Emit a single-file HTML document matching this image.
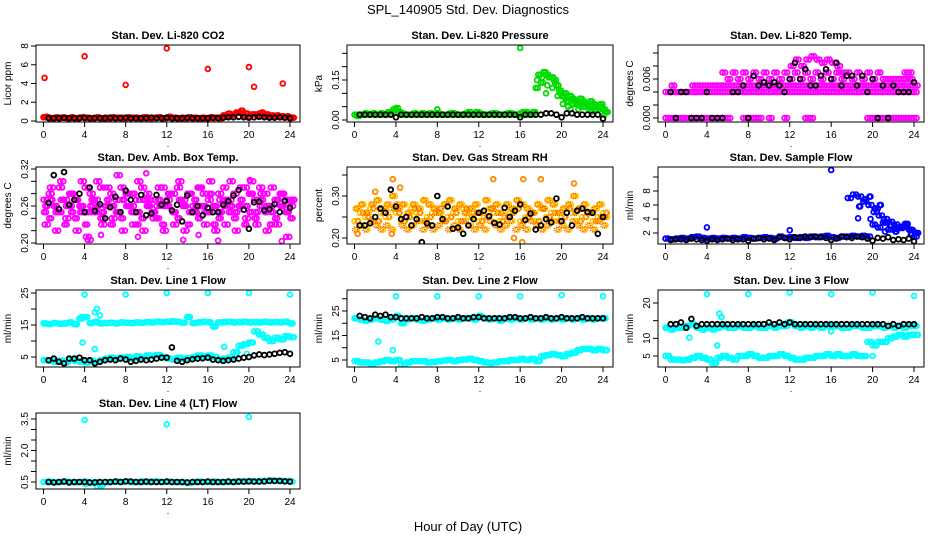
<!DOCTYPE html>
<html><head><meta charset="utf-8">
<style>
html,body{margin:0;padding:0;background:#fff;}
svg{display:block;font-family:"Liberation Sans",Arial,sans-serif;}
</style></head>
<body>
<svg id="chart" width="936" height="540" viewBox="0 0 936 540" xmlns="http://www.w3.org/2000/svg">
<text x="468" y="14" text-anchor="middle" font-size="13">SPL_140905  Std. Dev. Diagnostics</text>
<text x="468" y="531" text-anchor="middle" font-size="13">Hour of Day (UTC)</text>
</svg>
<script>
const xTicks=[0,4,8,12,16,20,24];
// CO2
const co2Red=[0.4,0.35,0.3,0.3,0.35,0.3,0.3,0.35,0.3,0.3,0.35,0.3,0.35,0.3,0.3,0.35,0.3,0.3,0.35,0.3,0.4,0.3,0.35,0.3,0.35,0.3,0.3,0.35,0.3,0.3,0.3,0.35,0.3,0.3,0.35,0.6,0.8,0.7,0.9,0.6,0.5,0.7,0.8,0.6,0.5,0.5,0.4,0.4,0.3];
const co2Red2=[0.45,0.3,0.4,0.35,0.3,0.4,0.3,0.4,0.35,0.3,0.4,0.3,0.3,0.4,0.35,0.3,0.4,0.35,0.3,0.4,0.3,0.35,0.4,0.3,0.45,0.35,0.3,0.3,0.4,0.35,0.3,0.3,0.4,0.35,0.3,0.5,0.6,0.9,1.1,0.8,0.7,0.6,0.9,0.7,0.6,0.6,0.5,0.5,0.35];
const co2OutX=[0.1,4,8,12,16,20,20.5,23.3];
const co2OutY=[4.6,6.9,3.85,7.75,5.55,5.75,3.65,4.0];
const co2Black=[null,0.3,0.3,0.3,0.35,0.3,0.3,0.3,0.35,0.3,0.3,0.3,0.3,0.35,0.3,0.3,0.35,0.3,0.3,0.3,0.3,0.35,0.3,0.3,0.35,0.3,0.3,0.3,0.35,0.3,0.3,0.3,0.3,0.35,0.3,0.35,0.4,0.4,0.45,0.4,0.35,0.4,0.45,0.4,0.35,0.35,0.4,0.35,0.3];
// Pressure
const presA=[0.02,0.02,0.025,0.02,0.02,0.025,0.02,0.03,0.045,0.025,0.02,0.02,0.02,0.025,0.02,0.02,0.025,0.02,0.02,0.025,0.02,0.02,0.03,0.02,0.025,0.02,0.02,0.025,0.02,0.02,0.025,0.02,0.025,0.03,0.02,0.12,0.14,0.17,0.16,0.13,0.09,0.07,0.08,0.06,0.07,0.05,0.06,0.05,0.04];
const presB=[0.015,0.02,0.02,0.025,0.02,0.02,0.03,0.04,0.03,0.02,0.02,0.025,0.02,0.02,0.025,0.02,0.02,0.02,0.025,0.02,0.02,0.025,0.02,0.03,0.02,0.02,0.025,0.02,0.02,0.025,0.02,0.02,0.03,0.02,0.03,0.17,0.18,0.16,0.15,0.11,0.1,0.09,0.07,0.08,0.06,0.07,0.05,0.06,0.03];
const presC=[null,null,null,null,null,null,null,null,null,null,null,null,null,null,null,null,null,null,null,null,null,null,null,null,null,null,null,null,null,null,null,null,null,null,null,0.15,0.16,0.13,0.12,0.09,0.06,0.05,0.06,0.04,0.05,0.04,0.05,0.04,0.02];
const presD=[null,null,null,null,null,null,null,null,null,null,null,null,null,null,null,null,null,null,null,null,null,null,null,null,null,null,null,null,null,null,null,null,null,null,null,null,null,null,0.14,0.1,0.08,0.04,0.06,0.05,0.06,0.03,0.04,0.05,0.03];
const presOutX=[16,18.5,4,8];
const presOutY=[0.27,0.1,0.045,0.04];
const presBlack=[null,0.02,0.02,0.02,0.02,0.02,0.02,0.02,0.01,0.02,0.02,0.02,0.02,0.02,0.02,0.02,0.02,0.02,0.02,0.02,0.02,0.02,0.02,0.02,0.02,0.02,0.02,0.02,0.02,0.02,0.02,0.02,0.01,0.02,0.02,0.02,0.02,0.025,0.025,0.02,0.01,0.025,0.025,0.02,0.02,0.02,0.02,0.02,0.005];
// Li-820 temp
const tempM0=[0,0,0,0,0,0,0,0,0,0,0,0,0,null,null,0,0,0,0,null,0,null,null,0,null,null,null,0,0,null,null,null,null,null,null,null,null,null,null,0,0,0,0,0,0,0,0,0,0];
const tempM4=[0.004,0.004,0.004,0.004,0.004,0.004,0.004,0.004,0.004,0.004,0.004,0.004,0.004,0.004,0.004,0.004,0.004,0.004,0.004,0.004,0.004,0.004,0.004,0.004,0.004,0.004,0.004,0.004,0.004,0.004,0.004,0.004,0.004,0.004,0.004,0.004,0.004,0.004,0.004,0.004,0.004,0.004,0.004,0.004,0.004,0.004,0.004,0.004,0.004];
const tempM5=[null,0.005,null,null,null,0.005,0.005,0.005,0.005,0.005,0.005,0.005,0.005,0.005,0.005,0.005,0.005,0.005,0.005,0.005,0.005,0.005,0.005,0.005,0.005,0.005,0.005,0.005,0.005,0.005,0.005,0.005,0.005,0.005,0.005,0.005,0.005,0.005,0.005,0.005,0.005,0.005,0.005,0.005,0.005,0.005,0.005,0.005,0.005];
const tempM6=[null,null,null,null,null,null,null,null,null,null,null,0.007,0.006,0.007,0.006,0.007,0.006,0.007,0.006,0.007,0.006,0.007,0.006,0.007,0.006,0.007,0.006,0.007,0.006,0.007,0.006,0.007,0.006,0.007,0.006,0.007,0.006,0.007,0.006,0.007,0.006,0.007,0.006,0.006,0.006,0.006,0.006,0.007,null];
const tempM7=[null,null,null,null,null,null,null,null,null,null,null,null,null,null,null,null,null,null,null,null,null,null,null,null,0.008,0.009,0.008,0.009,0.0095,0.009,0.0085,0.009,0.0085,0.008,0.007,null,null,null,null,null,null,null,null,null,null,null,0.007,0.006,null];
const tempBlack=[null,0.004,0,0.004,0.004,0,0,0,0.004,0,0,0,null,0.004,0.004,0.005,0,0.0065,0.005,0.0055,0.005,0.0055,0.005,0.004,0.006,0.0085,0.006,0.0075,0.005,0.005,0.0065,0.0075,0.006,0.0085,0.005,0.0065,0.0065,0.005,0.0065,0.004,0.006,0,0.005,0,0.005,0.004,0.004,0.004,0.0055];
// Amb box
const ambA=[0.27,0.28,0.26,0.29,0.27,0.28,0.27,0.26,0.29,0.28,0.27,0.29,0.26,0.28,0.27,0.29,0.28,0.26,0.27,0.29,0.28,0.27,0.26,0.29,0.27,0.28,0.29,0.27,0.28,0.26,0.29,0.28,0.27,0.26,0.28,0.29,0.27,0.28,0.26,0.29,0.28,0.27,0.29,0.28,0.26,0.27,0.28,0.27,0.26];
const ambB=[0.25,0.24,0.26,0.25,0.23,0.26,0.24,0.25,0.23,0.26,0.25,0.24,0.26,0.23,0.25,0.24,0.26,0.25,0.23,0.24,0.26,0.25,0.24,0.23,0.26,0.25,0.24,0.26,0.23,0.25,0.24,0.26,0.25,0.23,0.24,0.26,0.25,0.24,0.26,0.23,0.25,0.24,0.26,0.25,0.23,0.24,0.26,0.25,0.24];
const ambC=[0.23,0.29,0.22,0.3,0.24,0.28,0.22,0.3,0.21,0.25,0.3,0.23,0.29,0.24,0.31,0.22,0.28,0.23,0.3,0.22,0.27,0.24,0.29,0.22,0.28,0.23,0.3,0.22,0.28,0.25,0.29,0.23,0.3,0.22,0.27,0.23,0.3,0.22,0.29,0.24,0.3,0.23,0.28,0.22,0.29,0.23,0.28,0.21,0.27];
const ambD=[0.26,0.27,0.25,0.27,0.26,0.25,0.27,0.26,0.25,0.27,0.26,0.25,0.27,0.26,0.25,0.27,0.26,0.28,0.25,0.27,0.26,0.25,0.27,0.26,0.28,0.25,0.27,0.26,0.25,0.27,0.26,0.25,0.28,0.26,0.25,0.27,0.26,0.25,0.27,0.26,0.28,0.25,0.27,0.26,0.25,0.27,0.26,0.25,0.27];
const ambOutX=[4.3,4.6,5.6,10,9.2,13.6,15.1,17,20.1,23.2];
const ambOutY=[0.205,0.205,0.213,0.313,0.21,0.205,0.213,0.204,0.302,0.203];
const ambBlack=[null,0.265,0.31,0.255,0.315,0.262,0.27,0.28,0.25,0.29,0.252,0.263,0.24,0.258,0.275,0.25,0.285,0.27,0.25,0.278,0.245,0.248,0.278,0.262,0.268,0.253,0.262,0.235,0.277,0.25,0.26,0.245,0.257,0.25,0.25,0.262,0.268,0.277,0.286,0.254,0.223,0.266,0.267,0.253,0.255,0.263,0.25,0.268,0.257];
// RH
const rhA=[0.24,0.26,0.25,0.27,0.24,0.26,0.25,0.27,0.26,0.24,0.25,0.27,0.26,0.24,0.25,0.26,0.27,0.24,0.25,0.26,0.24,0.27,0.25,0.26,0.24,0.25,0.27,0.26,0.24,0.25,0.26,0.27,0.24,0.25,0.26,0.24,0.27,0.25,0.26,0.24,0.25,0.27,0.26,0.24,0.25,0.26,0.24,0.25,0.26];
const rhB=[0.22,0.23,0.22,0.24,0.23,0.22,0.23,0.22,0.28,0.23,0.22,0.23,0.24,0.22,0.23,0.22,0.23,0.24,0.22,0.23,0.22,0.24,0.23,0.22,0.23,0.22,0.24,0.23,0.22,0.23,0.24,0.22,0.23,0.22,0.24,0.23,0.22,0.23,0.24,0.22,0.23,0.22,0.24,0.23,0.22,0.23,0.22,0.24,0.23];
const rhC=[0.27,0.28,0.26,0.28,0.29,0.27,0.28,0.3,0.27,0.28,0.26,0.28,0.27,0.29,0.28,0.27,0.26,0.28,0.29,0.27,0.28,0.26,0.27,0.28,0.26,0.29,0.27,0.28,0.26,0.28,0.27,0.29,0.28,0.27,0.26,0.28,0.27,0.29,0.28,0.26,0.27,0.28,0.3,0.27,0.28,0.26,0.27,0.28,0.25];
const rhOutX=[0.3,2,3.7,3.6,4.4,13.4,16.3,18,21,21.2,16.2,15.4];
const rhOutY=[0.21,0.31,0.34,0.21,0.32,0.34,0.34,0.34,0.38,0.33,0.19,0.2];
const rhBlack=[null,0.23,0.23,0.235,0.25,0.27,0.26,0.315,0.275,0.245,0.25,0.23,0.245,0.19,0.235,0.23,0.3,0.245,0.275,0.222,0.225,0.21,0.23,0.245,0.26,0.265,0.252,0.236,0.232,0.272,0.25,0.265,0.28,0.243,0.258,0.22,0.23,0.245,0.237,0.294,0.24,0.26,0.23,0.265,0.27,0.262,0.26,0.21,0.25];
// Sample flow
const sfA=[1.2,1.1,1.2,1.3,1.2,1.4,1.5,1.3,1.2,1.3,1.2,1.3,1.2,1.3,1.2,1.4,1.3,1.2,1.3,1.4,1.3,1.2,1.5,1.3,1.4,1.3,1.4,1.3,1.5,1.4,1.5,1.6,1.4,1.3,1.5,1.5,1.6,1.5,1.6,1.5,3.2,2.8,3.5,2.5,2.6,2.8,3.0,2.5,1.5];
const sfB=[null,null,null,null,null,null,null,null,null,null,null,null,null,null,null,null,null,null,null,null,null,null,null,null,null,null,null,null,null,null,null,null,null,null,null,7.0,7.5,7.2,6.5,6.0,5.0,4.5,4.0,3.6,3.2,2.7,3.3,2.4,2.0];
const sfC=[null,null,null,null,null,null,null,null,null,null,null,null,null,null,null,null,null,null,null,null,null,null,null,null,null,null,null,null,null,null,null,null,null,null,null,null,null,5.8,6.8,7.2,5.5,6.0,3.5,3.0,2.2,2.8,3.3,1.8,2.0];
const sfOutX=[16,4,12,18.6,20.5,19.8,21.2];
const sfOutY=[11,2.8,2.4,4.1,5.5,4,2.2];
const sfBlack=[null,1.0,1.1,1.1,1.0,1.2,1.1,1.0,0.9,1.1,1.0,1.1,1.2,1.0,1.1,1.1,0.9,1.2,1.3,1.1,1.2,1.0,1.4,1.3,1.1,1.4,1.3,1.5,1.4,1.5,1.4,1.3,1.0,1.2,1.5,1.4,1.3,1.5,1.4,1.2,0.9,1.3,1.2,1.4,1.0,1.1,1.0,1.2,0.8];
// Line 1
const l1Up=[15.5,15.3,15.6,15.4,15.5,15.8,15.2,17,17.5,15.6,16,15.5,15.6,15.7,15.5,15.8,15.7,15.6,15.8,15.7,15.9,15.8,16,15.9,16,16.1,16,15.7,17.5,15.6,15.8,16,15.9,14.5,15.8,15.9,16,15.8,15.9,16,15.8,15.9,15.8,16,15.8,15.9,15.8,16,15.5];
const l1Low=[4,3.8,3.5,3.9,3.3,4.2,3.8,3.5,3.3,3.8,3.5,4,4.5,4.8,4.4,4.8,5,4.5,5.2,4.8,5.5,5.3,5.6,5,4.5,4.2,4.8,4.5,4.6,5,5.5,5.2,5.5,5.0,4.3,4.5,4.8,6.5,8.5,9,9.5,13,12,11,10,11,10.5,11.5,11.2];
const l1OutX=[4,8,12,16,20,24,3.8,5,5.2,5.5,3.7,5,17.6,19.8];
const l1OutY=[24.5,24.5,25,25,25,24.5,9.5,7.5,20,18,17.5,19,8.2,6];
const l1Black=[null,4,4.5,3.5,3,4.5,4.5,4.8,4,4,3,3.5,4,4.2,4,4.5,4.2,3.5,3.8,4.2,4,4.2,4.5,4.8,4.8,8,3.8,3.5,4,4.3,4.5,4.6,4.8,4.2,4,3.8,4,4.2,4.5,4.8,5,5.5,5.8,5.6,5.8,6,6.3,6.5,6.0];
// Line 2
const l2Up=[22,21.5,21,21.5,22,21.5,21,21.5,23,20,21.5,22,21.5,21,21.5,22,21.5,22,21.5,22,21.5,22,22,21.5,23,22,21.5,22,21,22,21.5,22,21.5,22,21.5,22,21.5,22,21.5,22,21.5,22,21.5,22,21.5,22,21.5,22,22];
const l2Low=[4.5,4,4,3.5,4,4.5,5,4.5,5,3,4,4.5,4.5,4.5,4,4.2,4.5,4.8,5,4.5,5,5.2,5.5,5,4.5,4,3.8,4,4.5,4.5,5,5,5.5,5,5.5,4.5,6.5,7,7.5,7,6.5,7.5,8,9,9.5,9.5,9,9.5,9];
const l2OutX=[4,8,12,16,20,24,2.3,3.7];
const l2OutY=[31,31,31,31,31.5,31,12.5,9];
const l2Black=[null,23,22.5,22,23.5,23,23.5,22.5,22.5,22,22,22,22,22.5,22,22,22.5,22.5,22,22,22.5,22,22,22.5,22.5,22,22,22,22,22,22.5,22.5,22,22,22.5,22,22,22.5,22,22,22.5,22,22,22,22.5,22,22,22,22];
// Line 3
const l3Up=[13,12.5,13,13,13.5,14,13,12.5,13,12.5,13,13.5,13,13,13.5,13,13,13.5,13,13,13.5,13,13.5,13.5,14.5,13.5,13,13.5,13,13.5,13,13.5,13.5,13.5,13,13,13.5,13.5,13,13,13.5,13.5,13,13.5,13,13.5,13,13.5,13.5];
const l3Low=[5,4,4,3.8,4,4.5,5,4.5,4,3,4.5,5,4.5,4,5,5,5.5,5,4.5,4.5,5,5,5.5,5,4.5,4,4,4.5,4.5,5,5,5.5,5,5.5,5,5,5.5,5,5,9,8,9,9,10,10.5,11,10.5,11,11];
const l3OutX=[4,8,12,16,20,24,2.3,5,5.2,5.4,16,20,11.8];
const l3OutY=[22.5,22.5,23,22.5,23,22,10.2,8,17,16,12,5,14.5];
const l3Black=[null,14,14,14.5,13,15.5,13.5,14,14,14,14,14,14,14,14,14,14,14,14,14,14.5,14,14.5,14,14.5,14,14,14,14,14,14,14,14,14,14,14,14,14,14,14,14,14,14,13.5,14,13.5,14,14,14];
// Line 4
const l4Cyan=[0.5,0.52,0.48,0.5,0.53,0.5,0.48,0.5,0.52,0.45,0.5,0.35,0.48,0.5,0.52,0.5,0.53,0.5,0.5,0.52,0.5,0.53,0.52,0.5,0.52,0.5,0.5,0.48,0.45,0.5,0.52,0.5,0.5,0.52,0.5,0.5,0.5,0.52,0.53,0.52,0.55,0.53,0.55,0.56,0.58,0.56,0.55,0.55,0.52];
const l4OutX=[4,12,20,4.1,5.2];
const l4OutY=[3.45,3.25,3.6,0.4,0.3];
const l4Black=[null,0.5,0.48,0.5,0.52,0.48,0.5,0.5,0.5,0.48,0.48,0.5,0.5,0.5,0.52,0.5,0.53,0.52,0.5,0.5,0.52,0.5,0.5,0.5,0.52,0.5,0.5,0.5,0.48,0.5,0.5,0.5,0.52,0.5,0.5,0.5,0.52,0.5,0.52,0.52,0.53,0.52,0.52,0.53,0.55,0.55,0.55,0.53,0.52];

const SVGNS="http://www.w3.org/2000/svg";
const svg=document.getElementById('chart');
function mk(tag,attrs,parent){const e=document.createElementNS(SVGNS,tag);for(const k in attrs)e.setAttribute(k,attrs[k]);(parent||svg).appendChild(e);return e;}

const M='#ff00ff', C='#00ffff';
const panels=[
 {id:'co2',title:'Stan. Dev. Li-820 CO2',ylab:'Licor ppm',L:36,R:300,T:45,B:122,y0:0,p0:121,y1:8,p1:46,ticks:[0,2,4,6,8],labels:['0','2','4','6','8'],
  series:[[co2Red,'#ff0000',0],[co2Red2,'#ff0000',0.25],[co2Red,'#ff0000',0.125],[co2Red2,'#ff0000',0.375]],outX:co2OutX,outY:co2OutY,oc:'#ff0000',black:co2Black},
 {id:'pressure',title:'Stan. Dev. Li-820 Pressure',ylab:'kPa',L:347,R:613,T:45,B:122,y0:0,p0:120,y1:0.15,p1:80,ticks:[0,0.05,0.1,0.15,0.2,0.25],labels:['0.00','','','0.15','',''],
  series:[[presA,'#00dd00',0],[presB,'#00dd00',0.25],[presC,'#00dd00',0.12],[presD,'#00dd00',0.37],[presA,'#00dd00',0.2],[presB,'#00dd00',0.45]],outX:presOutX,outY:presOutY,oc:'#00dd00',black:presBlack},
 {id:'li820-temp',title:'Stan. Dev. Li-820 Temp.',ylab:'degrees C',L:658,R:924,T:45,B:122,y0:0,p0:118,y1:0.006,p1:79,ticks:[0,0.002,0.004,0.006,0.008,0.01],labels:['0.000','','','0.006','',''],
  series:[[tempM0,M,0],[tempM0,M,0.25],[tempM4,M,0],[tempM4,M,0.25],[tempM5,M,0.1],[tempM5,M,0.35],[tempM6,M,0],[tempM6,M,0.25],[tempM7,M,0.1],[tempM7,M,0.35]],outX:[],outY:[],oc:M,black:tempBlack},
 {id:'amb-box-temp',title:'Stan. Dev. Amb. Box Temp.',ylab:'degrees C',L:36,R:300,T:167,B:244,y0:0.2,p0:243,y1:0.32,p1:169,ticks:[0.2,0.22,0.24,0.26,0.28,0.3,0.32],labels:['0.20','','','0.26','','','0.32'],
  series:[[ambA,M,0],[ambB,M,0.25],[ambC,M,0.125],[ambD,M,0.375],[ambA,M,0.3],[ambB,M,0.05],[ambD,M,0.18],[ambC,M,0.43]],outX:ambOutX,outY:ambOutY,oc:M,black:ambBlack},
 {id:'gas-stream-rh',title:'Stan. Dev. Gas Stream RH',ylab:'percent',L:347,R:613,T:167,B:244,y0:0.2,p0:238,y1:0.3,p1:196,ticks:[0.2,0.25,0.3,0.35],labels:['0.20','','0.30',''],
  series:[[rhA,'#ffcc00',0],[rhB,'#ffcc00',0.25],[rhC,'#ffcc00',0.125],[rhA,'#ffcc00',0.375],[rhC,'#ffcc00',0.4],[rhA,'#ff5a00',0.3],[rhB,'#ff5a00',0.05],[rhC,'#ff5a00',0.2]],outX:rhOutX,outY:rhOutY,oc:'#ff8800',black:rhBlack,rh:true},
 {id:'sample-flow',title:'Stan. Dev. Sample Flow',ylab:'ml/min',L:658,R:924,T:167,B:244,y0:2,p0:233,y1:8,p1:191,ticks:[2,4,6,8,10],labels:['2','4','6','8',''],
  series:[[sfA,'#0000ff',0],[sfA,'#0000ff',0.25],[sfB,'#0000ff',0.1],[sfC,'#0000ff',0.3],[sfB,'#0000ff',0.4],[sfC,'#0000ff',0.2]],outX:sfOutX,outY:sfOutY,oc:'#0000ff',black:sfBlack},
 {id:'line1-flow',title:'Stan. Dev. Line 1 Flow',ylab:'ml/min',L:36,R:300,T:290,B:367,y0:5,p0:357,y1:25,p1:293,ticks:[5,10,15,20,25],labels:['5','','15','','25'],
  series:[[l1Up,C,0],[l1Up,C,0.25],[l1Low,C,0],[l1Low,C,0.25],[l1Up,C,0.125],[l1Low,C,0.375]],outX:l1OutX,outY:l1OutY,oc:C,black:l1Black},
 {id:'line2-flow',title:'Stan. Dev. Line 2 Flow',ylab:'ml/min',L:347,R:613,T:290,B:367,y0:5,p0:360,y1:25,p1:311,ticks:[5,10,15,20,25,30],labels:['5','','15','','25',''],
  series:[[l2Up,C,0],[l2Up,C,0.25],[l2Low,C,0],[l2Low,C,0.25],[l2Up,C,0.125],[l2Low,C,0.375]],outX:l2OutX,outY:l2OutY,oc:C,black:l2Black},
 {id:'line3-flow',title:'Stan. Dev. Line 3 Flow',ylab:'ml/min',L:658,R:924,T:290,B:367,y0:5,p0:356,y1:20,p1:303,ticks:[5,10,15,20],labels:['5','10','','20'],
  series:[[l3Up,C,0],[l3Up,C,0.25],[l3Low,C,0],[l3Low,C,0.25],[l3Up,C,0.125],[l3Low,C,0.375]],outX:l3OutX,outY:l3OutY,oc:C,black:l3Black},
 {id:'line4-flow',title:'Stan. Dev. Line 4 (LT) Flow',ylab:'ml/min',L:36,R:300,T:413,B:489,y0:0.5,p0:482,y1:3.5,p1:419,ticks:[0.5,1,1.5,2,2.5,3,3.5],labels:['0.5','','','2.0','','','3.5'],
  series:[[l4Cyan,C,0],[l4Cyan,C,0.25]],outX:l4OutX,outY:l4OutY,oc:C,black:l4Black}
];

panels.forEach(p=>{
  const g=mk('g',{});
  
  
  const xs=h=>p.L+7.5+(h/24)*(p.R-10-(p.L+7.5));
  const ys=v=>p.p0+(v-p.y0)*(p.p1-p.p0)/(p.y1-p.y0);
  const clip='clip-'+p.id;
  const cp=mk('clipPath',{id:clip},g);mk('rect',{x:p.L,y:p.T,width:p.R-p.L,height:p.B-p.T},cp);
  const t=mk('text',{x:(p.L+p.R)/2,y:p.T-6,'text-anchor':'middle','font-size':'11','font-weight':'bold'},g);t.textContent=p.title;
  
  
  const yl=mk('text',{x:0,y:0,transform:`translate(${p.L-25},${(p.T+p.B)/2}) rotate(-90)`,'text-anchor':'middle','font-size':'10'},g);yl.textContent=p.ylab;
  
  
  xTicks.forEach(h=>{
    const x=xs(h);
    mk('line',{x1:x,y1:p.B,x2:x,y2:p.B+5,stroke:'#000','stroke-width':1},g);
    const tl=mk('text',{x:x,y:p.B+16,'text-anchor':'middle','font-size':'10'},g);tl.textContent=h;
    
    
  });
  const dot=mk('text',{x:(p.L+p.R)/2,y:p.B+25,'text-anchor':'middle','font-size':'9'},g);dot.textContent='.';
  p.ticks.forEach((v,i)=>{
    const y=ys(v);
    mk('line',{x1:p.L-5,y1:y,x2:p.L,y2:y,stroke:'#000','stroke-width':1},g);
    if(p.labels[i]){
      const tl=mk('text',{x:0,y:0,transform:`translate(${p.L-8},${y}) rotate(-90)`,'text-anchor':'middle','font-size':'10'},g);tl.textContent=p.labels[i];
      
      
    }
  });
  const pg=mk('g',{'clip-path':`url(#${clip})`},g);
  const circ=(h,v,c,name)=>{
    const e=mk('circle',{cx:xs(h),cy:ys(v),r:2.4,fill:'none',stroke:c,'stroke-width':1.8},pg);
    
    
    if(p.rh&&c==='#ff5a00'){e.setAttribute('stroke-dasharray','1 1');}
  };
  p.series.forEach(s=>{
    s[0].forEach((v,i)=>{if(v!==null)circ(i*0.5+s[2],v,s[1],'data-point');});
  });
  p.outX.forEach((h,i)=>circ(h,p.outY[i],p.oc,'outlier-point'));
  p.black.forEach((v,i)=>{if(v!==null)circ(i*0.5,v,'#000','hourly-point');});
  const box=mk('rect',{x:p.L,y:p.T,width:p.R-p.L,height:p.B-p.T,fill:'none',stroke:'#000','stroke-width':1},g);
  
  
});
</script>
</body></html>
